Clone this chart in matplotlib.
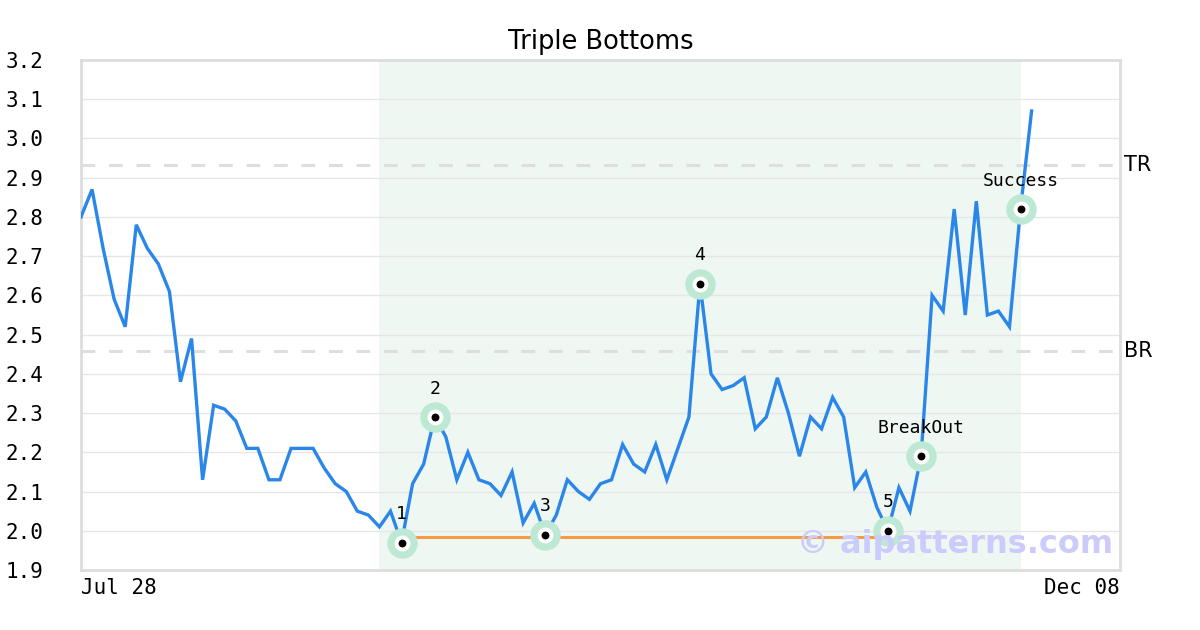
import matplotlib
matplotlib.use("Agg")
import matplotlib.pyplot as plt

# ---- data ----
prices = [2.80, 2.87, 2.72, 2.59, 2.52, 2.78, 2.72, 2.68, 2.61, 2.38,
          2.49, 2.13, 2.32, 2.31, 2.28, 2.21, 2.21, 2.13, 2.13, 2.21,
          2.21, 2.21, 2.16, 2.12, 2.10, 2.05, 2.04, 2.01, 2.05, 1.97,
          2.12, 2.17, 2.29, 2.24, 2.13, 2.20, 2.13, 2.12, 2.09, 2.15,
          2.02, 2.07, 1.99, 2.04, 2.13, 2.10, 2.08, 2.12, 2.13, 2.22,
          2.17, 2.15, 2.22, 2.13, 2.21, 2.29, 2.63, 2.40, 2.36, 2.37,
          2.39, 2.26, 2.29, 2.39, 2.30, 2.19, 2.29, 2.26, 2.34, 2.29,
          2.11, 2.15, 2.06, 2.00, 2.11, 2.05, 2.19, 2.60, 2.56, 2.82,
          2.55, 2.84, 2.55, 2.56, 2.52, 2.82, 3.07]
x_index = list(range(len(prices)))
x_max = 94
date_labels = ["Jul 28", "Dec 08"]

point_idx = [29, 32, 42, 56, 73, 76, 85]
point_labels = ["1", "2", "3", "4", "5", "BreakOut", "Success"]

pattern_start, pattern_end = 27, 85
support_start, support_end = 29, 73
support_level = 1.984
top_resistance = 2.932
bottom_resistance = 2.458

y_ticks = [1.9, 2.0, 2.1, 2.2, 2.3, 2.4, 2.5, 2.6, 2.7, 2.8, 2.9, 3.0, 3.1, 3.2]

# ---- plot ----
fig = plt.figure(figsize=(12, 6.3), dpi=100)
ax = fig.add_axes([81/1200, 1-570/630, (1120-81)/1200, 510/630])

ax.axvspan(pattern_start, pattern_end, color="#eff7f3", zorder=0, lw=0)
for yt in y_ticks:
    ax.axhline(yt, color="#e6e6e6", lw=1, zorder=1)
for lvl in (top_resistance, bottom_resistance):
    ax.axhline(lvl, color="#dedede", lw=2.2, dashes=(4.5, 4.5), zorder=1)

ax.plot(x_index, prices, color="#2a86e8", lw=2.4, zorder=3, solid_joinstyle="miter")
ax.plot([support_start, support_end], [support_level, support_level],
        color="#f59b42", lw=2.2, zorder=2)

px = [x_index[i] for i in point_idx]
py = [prices[i] for i in point_idx]
ax.scatter(px, py, s=480, color="#bde8d4", zorder=4, lw=0)
ax.scatter(px, py, s=130, color="white", zorder=5, lw=0)
ax.scatter(px, py, s=32, color="black", zorder=6, lw=0)
for xx, yy, lab in zip(px, py, point_labels):
    ax.annotate(lab, (xx, yy), xytext=(0, 14), textcoords="offset points",
                ha="center", va="bottom", fontsize=13, family="DejaVu Sans Mono",
                zorder=7)

ax.text(1.004, top_resistance, "TR", transform=ax.get_yaxis_transform(),
        ha="left", va="center", fontsize=15)
ax.text(1.004, bottom_resistance, "BR", transform=ax.get_yaxis_transform(),
        ha="left", va="center", fontsize=15)

ax.text(0.993, 0.05, "© aipatterns.com", transform=ax.transAxes,
        ha="right", va="center", fontsize=23, fontweight="bold",
        color="#cbcbfc", zorder=8)

ax.set_xlim(0, x_max)
ax.set_ylim(1.9, 3.2)
ax.set_yticks(y_ticks)
ax.set_yticklabels([f"{v:.1f}" for v in y_ticks], family="DejaVu Sans Mono", fontsize=15)
ax.tick_params(axis="y", length=0, pad=27)
ax.set_xticks([0, x_max])
xt = ax.set_xticklabels(date_labels, family="DejaVu Sans Mono", fontsize=15)
xt[0].set_ha("left")
xt[1].set_ha("right")
ax.tick_params(axis="x", length=0, pad=6)

for sp in ax.spines.values():
    sp.set_color("#dddddd")
    sp.set_linewidth(2)

ax.set_title("Triple Bottoms", fontsize=18.5, pad=8)

fig.savefig("out.png", dpi=100)
